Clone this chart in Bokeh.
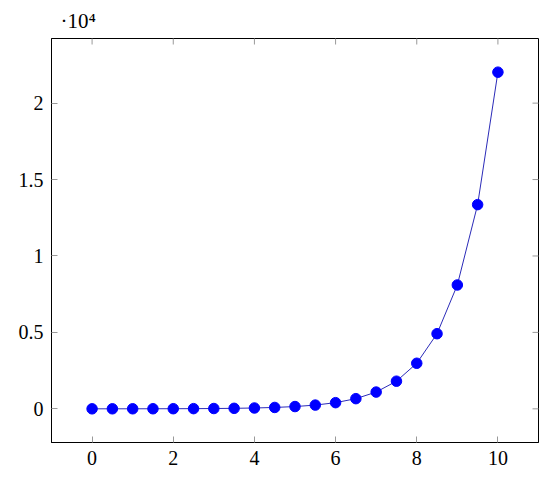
import math
from bokeh.plotting import figure
from bokeh.models import Range1d, FixedTicker
from bokeh.embed import file_html
from bokeh.resources import INLINE

xs = [0, 0.5, 1, 1.5, 2, 2.5, 3, 3.5, 4, 4.5, 5, 5.5, 6, 6.5, 7, 7.5, 8, 8.5, 9, 9.5, 10]
ys = [1, 1.65, 2.72, 4.48, 7.39, 12.18, 20.09, 33.12, 54.6, 90.02, 148.4, 244.7,
      403.4, 665.1, 1096.6, 1808.0, 2981.0, 4915.0, 8103.0, 13360.0, 22026.0]
xticks = [0, 2, 4, 6, 8, 10]
yticks = [0, 5000, 10000, 15000, 20000]
ytick_labels = ["0", "0.5", "1", "1.5", "2"]
scale_label = "·10⁴"

FONT = "Liberation Serif"
X0, X1 = -1, 11
Y0, Y1 = -2203, 24229

p = figure(width=540, height=477, output_backend="svg", toolbar_location=None,
           x_range=Range1d(X0, X1), y_range=Range1d(Y0, Y1),
           min_border_left=51, min_border_right=2, min_border_top=0, min_border_bottom=35,
           title=scale_label)
p.title.text_font = FONT
p.title.text_font_size = "21px"
p.title.text_font_style = "normal"
p.title.text_color = "black"
p.title.align = "left"
p.title.offset = 9
p.title.standoff = 12
p.xgrid.visible = False
p.ygrid.visible = False
p.outline_line_color = "black"
p.outline_line_width = 1

xa = p.xaxis[0]
ya = p.yaxis[0]
xa.ticker = FixedTicker(ticks=xticks)
ya.ticker = FixedTicker(ticks=yticks)
ya.major_label_overrides = {t: l for t, l in zip(yticks, ytick_labels)}
for ax in [xa, ya]:
    ax.axis_line_color = "black"
    ax.major_tick_in = 6
    ax.major_tick_out = 0
    ax.major_tick_line_color = "#999999"
    ax.minor_tick_line_color = None
    ax.major_label_text_font = FONT
    ax.major_label_text_font_size = "20px"
    ax.major_label_text_color = "black"
    ax.major_label_standoff = 8

# mirrored inner ticks on top and right edges
p.scatter(xticks, [Y1] * len(xticks), marker="dash", size=12, angle=math.pi / 2,
          line_color="#999999", line_width=1)
p.scatter([X1] * len(yticks), yticks, marker="dash", size=12,
          line_color="#999999", line_width=1)

p.line(xs, ys, line_color="#2b2bb8", line_width=1)
p.scatter(xs, ys, size=10.5, fill_color="#0000ff", line_color="#0000ff")

open("out.html", "w").write(file_html(p, INLINE))
